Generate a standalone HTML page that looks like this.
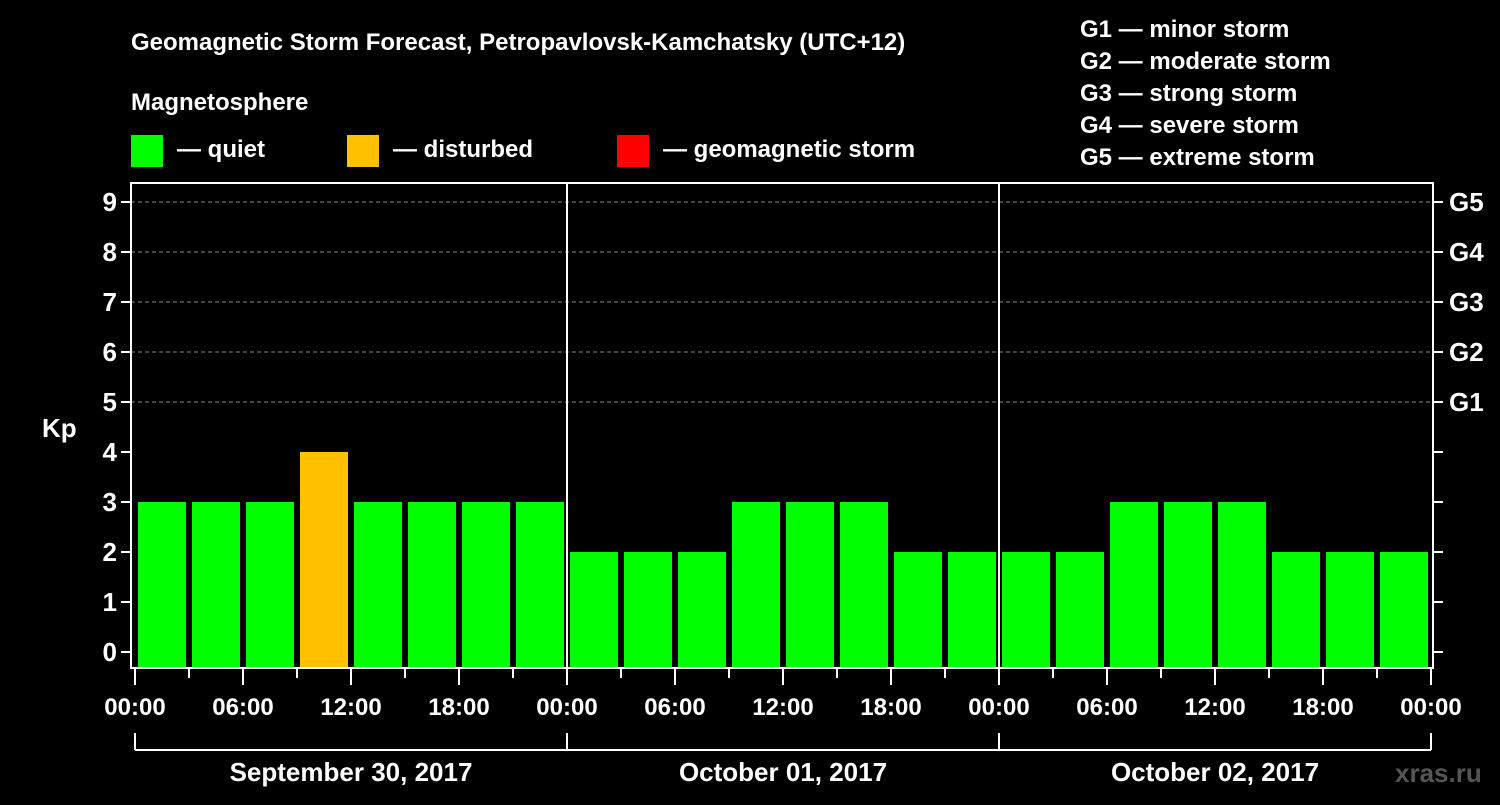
<!DOCTYPE html>
<html><head><meta charset="utf-8"><style>
body{margin:0;background:#000;}
svg text{font-family:"Liberation Sans",sans-serif;font-weight:bold;fill:#fff;}
</style></head><body>
<svg id="chart" width="1500" height="800" viewBox="0 0 1500 800" xmlns="http://www.w3.org/2000/svg">
<rect width="1500" height="800" fill="#000"/>
<text x="131" y="50" font-size="24">Geomagnetic Storm Forecast, Petropavlovsk-Kamchatsky (UTC+12)</text>
<text x="131" y="110" font-size="24">Magnetosphere</text>
<g><rect x="131" y="135" width="32" height="32" fill="#00ff00"/><text x="177" y="157" font-size="24">— quiet</text></g>
<g><rect x="347" y="135" width="32" height="32" fill="#ffc000"/><text x="393" y="157" font-size="24">— disturbed</text></g>
<g><rect x="617" y="135" width="32" height="32" fill="#ff0000"/><text x="663" y="157" font-size="24">— geomagnetic storm</text></g>
<g font-size="24">
<text x="1080" y="37">G1 — minor storm</text>
<text x="1080" y="69">G2 — moderate storm</text>
<text x="1080" y="101">G3 — strong storm</text>
<text x="1080" y="133">G4 — severe storm</text>
<text x="1080" y="165">G5 — extreme storm</text>
</g>
<g id="grid"></g>
<g id="bars"></g>
<rect x="131" y="183" width="1302" height="485" fill="none" stroke="#fff" stroke-width="2"/>
<g id="axes"></g>
<text x="42" y="437" font-size="26">Kp</text>
<text x="1395" y="782" font-size="26" fill="#555" style="fill:#555">xras.ru</text>
</svg>
<script>
const dayLabels=["September 30, 2017","October 01, 2017","October 02, 2017"];
const kpValues=[3,3,3,4,3,3,3,3, 2,2,2,3,3,3,2,2, 2,2,3,3,3,2,2,2];
const yTicks=[0,1,2,3,4,5,6,7,8,9];
const gLabels=["G1","G2","G3","G4","G5"];
const xTickLabels=["00:00","06:00","12:00","18:00"];
const NS="http://www.w3.org/2000/svg";
const x0=135, dayW=432, slotW=54;
function xs(h){return x0+h/3*slotW;}
function ys(v){return 652-v*50;}
function mk(tag,attrs,parent,txt){const e=document.createElementNS(NS,tag);for(const k in attrs)e.setAttribute(k,attrs[k]);if(txt!==undefined)e.textContent=txt;parent.appendChild(e);return e;}
const grid=document.getElementById('grid'),bars=document.getElementById('bars'),axes=document.getElementById('axes');
for(const v of yTicks){
  const l=mk('line',{x1:131,x2:1433,y1:ys(v),y2:ys(v),stroke:v>=5?'#888':'none','stroke-dasharray':'4,3','stroke-width':1},grid);
  
  
  mk('line',{x1:121,x2:131,y1:ys(v),y2:ys(v),stroke:'#fff','stroke-width':2},axes);
  mk('line',{x1:1433,x2:1443,y1:ys(v),y2:ys(v),stroke:'#fff','stroke-width':2},axes);
  const t=mk('text',{x:117,y:ys(v)+9,'text-anchor':'end','font-size':26},axes,String(v));
  
  
}
gLabels.forEach((g,i)=>{
  const t=mk('text',{x:1449,y:ys(5+i)+9,'font-size':26},axes,g);
  
  
});
kpValues.forEach((v,i)=>{
  const col=v>=5?'#ff0000':(v>=4?'#ffc000':'#00ff00');
  const r=mk('rect',{x:xs(i*3)+3,y:ys(v),width:48,height:668-ys(v),fill:col},bars);
  
  
});
for(let d=1;d<dayLabels.length;d++){
  mk('line',{x1:x0+d*dayW,x2:x0+d*dayW,y1:183,y2:668,stroke:'#fff','stroke-width':2},axes);
}
const totalSlots=dayLabels.length*8;
for(let s=0;s<=totalSlots;s++){
  const x=xs(s*3), major=s%2===0;
  mk('line',{x1:x,x2:x,y1:669,y2:major?685:678,stroke:'#fff','stroke-width':2},axes);
  if(major){
    const lbl=s===totalSlots?xTickLabels[0]:xTickLabels[(s/2)%4];
    const t=mk('text',{x:x,y:715,'text-anchor':'middle','font-size':24},axes,lbl);
    
    
  }
}
dayLabels.forEach((d,i)=>{
  const a=x0+i*dayW,b=a+dayW;
  mk('line',{x1:a,x2:b,y1:750,y2:750,stroke:'#fff','stroke-width':2},axes);
  mk('line',{x1:a,x2:a,y1:733,y2:750,stroke:'#fff','stroke-width':2},axes);
  mk('line',{x1:b,x2:b,y1:733,y2:750,stroke:'#fff','stroke-width':2},axes);
  const t=mk('text',{x:(a+b)/2,y:781,'text-anchor':'middle','font-size':26},axes,d);
  
  
});
</script>
</body></html>
